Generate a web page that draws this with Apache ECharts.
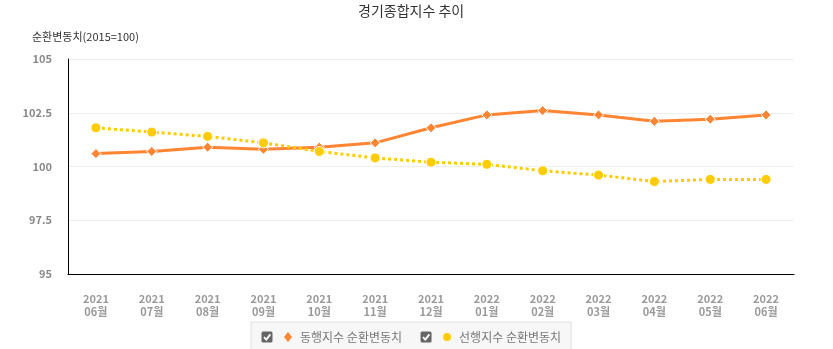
<!DOCTYPE html>
<html><head><meta charset="utf-8">
<script src="https://cdn.jsdelivr.net/npm/echarts@6/dist/echarts.min.js"></script>
<style>html,body{margin:0;padding:0;background:#fff}#c{width:833px;height:349px}</style>
</head><body><div id="c"></div>
<script>
const categories = ['2021\n06월','2021\n07월','2021\n08월','2021\n09월','2021\n10월','2021\n11월','2021\n12월','2022\n01월','2022\n02월','2022\n03월','2022\n04월','2022\n05월','2022\n06월'];
const coincident = [100.6,100.7,100.9,100.8,100.9,101.1,101.8,102.4,102.6,102.4,102.1,102.2,102.4];
const leading = [101.8,101.6,101.4,101.1,100.7,100.4,100.2,100.1,99.8,99.6,99.3,99.4,99.4];
const yTicks = [95,97.5,100,102.5,105];

const orange = '#ff8533', yellow = '#ffcc00';
function icon(kind, color){
  const mark = kind === 'diamond'
    ? `<path d="M27 2 L31 7 L27 12 L23 7 Z" fill="${color}"/>`
    : `<circle cx="27" cy="7" r="4" fill="${color}"/>`;
  const svg = `<svg xmlns="http://www.w3.org/2000/svg" width="34" height="14" viewBox="0 0 34 14">
<rect x="0.5" y="1.5" width="11" height="11" rx="1.5" fill="#666"/>
<path d="M3 7.2 L5.3 9.6 L9.3 4.4" stroke="#fff" stroke-width="1.8" fill="none"/>
${mark}</svg>`;
  return 'image://data:image/svg+xml;charset=utf-8,' + encodeURIComponent(svg);
}
const chart = echarts.init(document.getElementById('c'));
chart.setOption({
  animation:false,
  title:[
    {text:'경기종합지수 추이', left:353, top:-1, textStyle:{fontSize:14, fontWeight:'normal', color:'#333', fontFamily:'Noto Sans CJK KR'}},
    {text:'순환변동치(2015=100)', left:27, top:26, textStyle:{fontSize:11, fontWeight:'normal', color:'#333', fontFamily:'Noto Sans CJK KR'}}
  ],
  grid:{left:68, right:39, top:59, bottom:75},
  legend:{
    top:322, left:251,
    padding:[8,10,8,10],
    backgroundColor:'#f7f7f7', borderColor:'#e0e0e0', borderWidth:1,
    itemWidth:34, itemHeight:14, itemGap:18,
    textStyle:{fontSize:12, color:'#777', fontFamily:'Noto Sans CJK KR'},
    data:[
      {name:'동행지수 순환변동치', icon:icon('diamond', orange)},
      {name:'선행지수 순환변동치', icon:icon('circle', yellow)}
    ]
  },
  xAxis:{
    type:'category', data:categories, boundaryGap:true,
    axisLine:{lineStyle:{color:'#000', width:1}},
    axisTick:{show:false},
    axisLabel:{color:'#999', fontSize:11, fontWeight:'bold', margin:18, lineHeight:13, fontFamily:'Noto Sans CJK KR', interval:0}
  },
  yAxis:{
    type:'value', min:yTicks[0], max:yTicks[yTicks.length-1], interval:2.5,
    axisLine:{show:true, lineStyle:{color:'#000', width:1}},
    axisTick:{show:false},
    splitLine:{lineStyle:{color:'#eee'}},
    axisLabel:{color:'#888', fontSize:11, fontWeight:'bold', margin:16, fontFamily:'Noto Sans CJK KR'}
  },
  series:[
    {name:'동행지수 순환변동치', type:'line', data:coincident, symbol:'diamond', symbolSize:10,
     itemStyle:{color:orange, borderColor:'#fff', borderWidth:1},
     lineStyle:{color:orange, width:3}},
    {name:'선행지수 순환변동치', type:'line', data:leading, symbol:'circle', symbolSize:10,
     itemStyle:{color:yellow, borderColor:'#fff', borderWidth:1},
     lineStyle:{color:yellow, width:3, type:'dotted'}}
  ]
});
</script></body></html>
